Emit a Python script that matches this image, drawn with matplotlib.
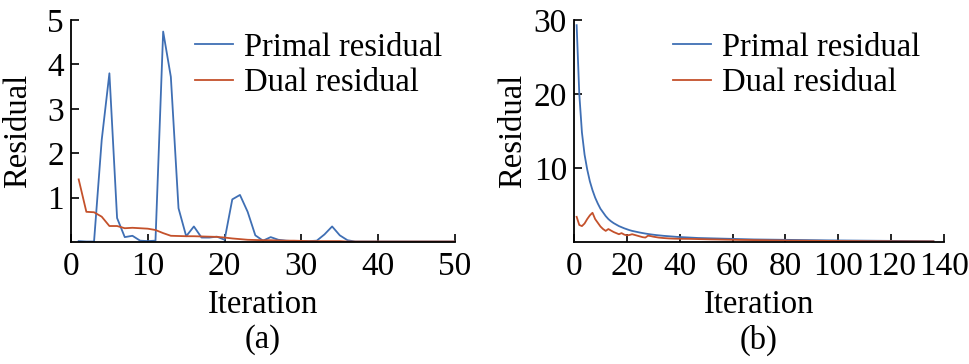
import matplotlib
matplotlib.use("Agg")
import matplotlib.pyplot as plt
import numpy as np

plt.rcParams['font.family'] = ['Liberation Serif', 'DejaVu Serif']
plt.rcParams['mathtext.fontset'] = 'stix'

# ---------------- data ----------------
iter_a = list(range(1, 51))
primal_a = [0.02, 0.01, 0.01, 2.3, 3.8, 0.54, 0.11, 0.14, 0.03, 0.02,
            0.03, 4.74, 3.72, 0.76, 0.13, 0.35, 0.10, 0.10, 0.12, 0.05,
            0.96, 1.06, 0.68, 0.15, 0.03, 0.11, 0.05, 0.03, 0.02, 0.02,
            0.02, 0.03, 0.17, 0.35, 0.15, 0.04, 0.01, 0.01, 0.01, 0.01,
            0.01, 0.01, 0.01, 0.01, 0.01, 0.01, 0.01, 0.01, 0.01, 0.01]
dual_a = [1.41, 0.68, 0.67, 0.57, 0.36, 0.36, 0.31, 0.32, 0.31, 0.30,
          0.27, 0.20, 0.14, 0.135, 0.13, 0.13, 0.125, 0.12, 0.115, 0.10,
          0.08, 0.065, 0.05, 0.045, 0.04, 0.04, 0.035, 0.03, 0.03, 0.025,
          0.02, 0.02, 0.02, 0.02, 0.02, 0.01, 0.01, 0.01, 0.01, 0.01,
          0.01, 0.01, 0.01, 0.01, 0.01, 0.01, 0.01, 0.01, 0.01, 0.01]

iter_b = list(range(1, 137))
primal_b = [29.3, 20.0, 14.8, 11.8, 9.8, 8.2, 7.0, 6.0, 5.2, 4.5,
            4.0, 3.5, 3.1, 2.8, 2.55, 2.35, 2.15, 2.0, 1.85, 1.72,
            1.6, 1.5, 1.42, 1.34, 1.27, 1.2, 1.14, 1.08, 1.03, 0.98,
            0.94, 0.9, 0.86, 0.83, 0.8, 0.77, 0.74, 0.72, 0.69, 0.67,
            0.65, 0.63, 0.61, 0.59, 0.57, 0.56, 0.54, 0.53, 0.51, 0.5,
            0.49, 0.48, 0.47, 0.46, 0.45, 0.44, 0.43, 0.42, 0.41, 0.40,
            0.39, 0.385, 0.38, 0.37, 0.365, 0.36, 0.35, 0.345, 0.34, 0.335,
            0.33, 0.325, 0.32, 0.315, 0.31, 0.305, 0.30, 0.295, 0.29, 0.285,
            0.28, 0.275, 0.27, 0.265, 0.26, 0.255, 0.25, 0.248, 0.245, 0.24,
            0.237, 0.234, 0.23, 0.227, 0.224, 0.22, 0.217, 0.214, 0.21, 0.207,
            0.204, 0.2, 0.197, 0.194, 0.19, 0.187, 0.184, 0.18, 0.177, 0.174,
            0.171, 0.168, 0.165, 0.162, 0.159, 0.156, 0.153, 0.15, 0.147, 0.144,
            0.141, 0.138, 0.135, 0.132, 0.129, 0.126, 0.123, 0.12, 0.118, 0.116,
            0.114, 0.112, 0.11, 0.108, 0.106, 0.104]
dual_b = [3.4, 2.3, 2.15, 2.5, 3.1, 3.6, 3.95, 3.1, 2.6, 2.1,
          1.75, 1.5, 1.75, 1.55, 1.35, 1.2, 1.05, 1.2, 1.0, 0.9,
          0.95, 1.05, 0.95, 0.85, 0.75, 0.65, 0.6, 0.85, 0.8, 0.72,
          0.66, 0.6, 0.56, 0.53, 0.5, 0.48, 0.46, 0.45, 0.44, 0.44,
          0.43, 0.43, 0.42, 0.42, 0.41, 0.41, 0.40, 0.39, 0.38, 0.37,
          0.36, 0.35, 0.35, 0.34, 0.33, 0.33, 0.32, 0.31, 0.31, 0.30,
          0.29, 0.29, 0.28, 0.28, 0.27, 0.27, 0.26, 0.26, 0.25, 0.25,
          0.24, 0.24, 0.23, 0.23, 0.22, 0.22, 0.21, 0.21, 0.21, 0.20,
          0.20, 0.19, 0.19, 0.19, 0.18, 0.18, 0.18, 0.17, 0.17, 0.17,
          0.16, 0.16, 0.16, 0.15, 0.15, 0.15, 0.14, 0.14, 0.14, 0.14,
          0.13, 0.13, 0.13, 0.13, 0.12, 0.12, 0.12, 0.12, 0.11, 0.11,
          0.11, 0.11, 0.11, 0.10, 0.10, 0.10, 0.10, 0.10, 0.10, 0.09,
          0.09, 0.09, 0.09, 0.09, 0.09, 0.09, 0.08, 0.08, 0.08, 0.08,
          0.08, 0.08, 0.08, 0.08, 0.08, 0.08]

xticks_a = [0, 10, 20, 30, 40, 50]
yticks_a = [1, 2, 3, 4, 5]
xticks_b = [0, 20, 40, 60, 80, 100, 120, 140]
yticks_b = [10, 20, 30]
labels = ["Primal residual", "Dual residual"]
panel_tags = ["(a)", "(b)"]

BLUE = "#3f6fb4"
RED = "#c4512b"

W, H = 969, 364
fig = plt.figure(figsize=(W / 100, H / 100), dpi=100)

def px_axes(l, r, t, b):
    return fig.add_axes([l / W, 1 - b / H, (r - l) / W, (b - t) / H])

ax1 = px_axes(71, 455, 20, 242)
ax2 = px_axes(574, 944, 20, 242)

FS = 23.5
TFS = 24

def style(ax, xlim, ylim, xt, yt, legx, ylpad):
    ax.set_xlim(*xlim)
    ax.set_ylim(*ylim)
    ax.set_xticks(xt)
    ax.set_yticks(yt)
    ax.spines['top'].set_visible(False)
    ax.spines['right'].set_visible(False)
    for s in ('left', 'bottom'):
        ax.spines[s].set_linewidth(1.3)
    ax.tick_params(direction='in', length=5.5, width=1.2, labelsize=TFS)
    ax.tick_params(axis='x', pad=7)
    ax.tick_params(axis='y', pad=5)
    ax.set_xlabel("Iteration", fontsize=FS, labelpad=5)
    ax.set_ylabel("Residual", fontsize=FS, labelpad=ylpad)
    ax.legend(labels, loc='upper left', bbox_to_anchor=(legx, 0.945), frameon=False,
              fontsize=FS, handlelength=1.15, handletextpad=0.35,
              labelspacing=0.15, borderpad=0.0, borderaxespad=0.0)

ax1.plot(iter_a, primal_a, color=BLUE, lw=1.3)
ax1.plot(iter_a, dual_a, color=RED, lw=1.3)
style(ax1, (0, 50), (0, 5), xticks_a, yticks_a, 0.323, 10)

ax2.plot(iter_b, primal_b, color=BLUE, lw=1.3)
ax2.plot(iter_b, dual_b, color=RED, lw=1.3)
style(ax2, (0, 140), (0, 30), xticks_b, yticks_b, 0.268, 4)

fig.text(263 / W, 1 - 340 / H, panel_tags[0], fontsize=FS, ha='center', va='center')
fig.text(759 / W, 1 - 340 / H, panel_tags[1], fontsize=FS, ha='center', va='center')

fig.savefig("out.png", dpi=100)
